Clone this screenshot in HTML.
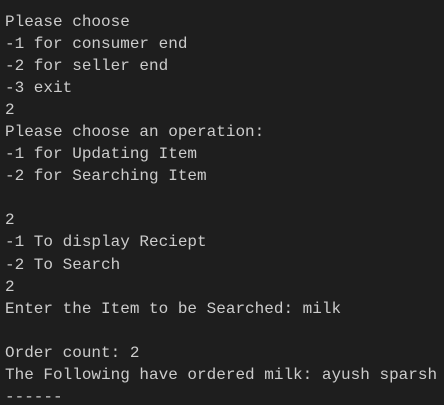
<!DOCTYPE html>
<html><head><meta charset="utf-8"><style>
html,body{margin:0;padding:0;background:#1e1e1e;width:444px;height:405px;overflow:hidden}
pre{margin:0;padding:11px 0 0 5px;font-family:"Liberation Mono",monospace;font-size:16px;line-height:22.05px;color:#cccccc}
</style></head><body><pre>Please choose
-1 for consumer end
-2 for seller end
-3 exit
2
Please choose an operation:
-1 for Updating Item
-2 for Searching Item

2
-1 To display Reciept
-2 To Search
2
Enter the Item to be Searched: milk

Order count: 2
The Following have ordered milk: ayush sparsh
------</pre></body></html>
